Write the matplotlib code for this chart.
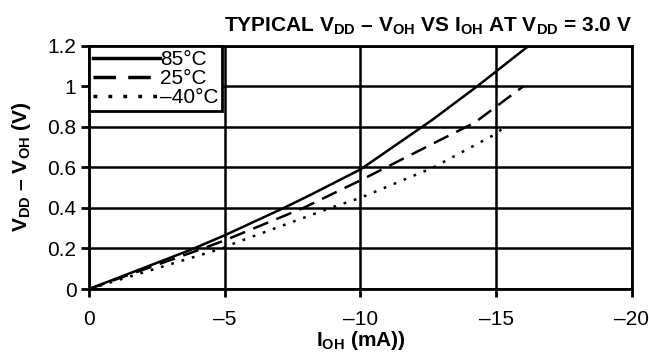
import numpy as np
import matplotlib
matplotlib.use('Agg')
from matplotlib import pyplot as plt
from matplotlib.ticker import FuncFormatter

plt.rcParams['font.family'] = 'Liberation Sans'
plt.rcParams['mathtext.fontset'] = 'custom'
plt.rcParams['mathtext.rm'] = 'Liberation Sans:bold'
plt.rcParams['mathtext.bf'] = 'Liberation Sans:bold'
plt.rcParams['mathtext.default'] = 'bf'

# data (I_OH in mA, Vdd - Voh in V)
i_85 = [0, -3.72, -5.0, -7.1, -8.14, -10.0, -12.63, -14.3, -16.2]
v_85 = [0, 0.192, 0.265, 0.395, 0.463, 0.59, 0.833, 1.00, 1.20]
i_25 = [0, -4.2, -5.0, -7.9, -10.0, -12.8, -14.2, -16.0]
v_25 = [0, 0.20, 0.24, 0.40, 0.536, 0.726, 0.82, 1.00]
i_m40 = [0, -4.9, -5.4, -8.9, -10.0, -12.66, -15.0, -15.4]
v_m40 = [0, 0.20, 0.228, 0.40, 0.45, 0.598, 0.766, 0.81]

labels = ['85°C', '25°C', '–40°C']
x_ticks = [0, -5, -10, -15, -20]
y_ticks = [0, 0.2, 0.4, 0.6, 0.8, 1.0, 1.2]

fig = plt.figure(figsize=(6.49, 3.58), dpi=100)
ax = fig.add_axes([0.1371, 0.1927, 0.8367, 0.6796])

ax.plot(i_85, v_85, color='k', lw=1.8, ls='-', label=labels[0])
ax.plot(i_25, v_25, color='k', lw=1.8, ls=(0, (6.5, 3.5)), label=labels[1])
ax.plot(i_m40, v_m40, color='k', lw=1.8, ls=(0, (1.1, 3.2)), label=labels[2])

ax.set_xlim(0, -20)
ax.set_ylim(0, 1.2)
ax.set_xticks(x_ticks)
ax.set_yticks(y_ticks)
ax.xaxis.set_major_formatter(FuncFormatter(lambda v, p: ('%g' % v).replace('-', '–')))
ax.yaxis.set_major_formatter(FuncFormatter(lambda v, p: '%g' % v))
ax.grid(True, color='k', lw=1.8)
for s in ax.spines.values():
    s.set_linewidth(2)
ax.tick_params(direction='out', length=6, width=2, labelsize=15, pad=3)
ax.tick_params(axis='x', pad=9)

ax.set_xlabel(r'I$_{OH}$ (mA))', fontsize=15, fontweight='bold', labelpad=0)
ax.set_ylabel(r'V$_{DD}$ – V$_{OH}$ (V)', fontsize=15, fontweight='bold', labelpad=10)
ax.set_title(r'TYPICAL V$_{DD}$ – V$_{OH}$ VS I$_{OH}$ AT V$_{DD}$ = 3.0 V',
             fontsize=15, fontweight='bold', loc='right', pad=10)

leg = ax.legend(loc='upper left', fontsize=15, handlelength=3.2, handletextpad=0.0,
                borderaxespad=0, borderpad=0.2, labelspacing=0.0, fancybox=False,
                framealpha=1, edgecolor='k')
leg.get_frame().set_linewidth(2)
for ln in leg.get_lines():
    ln.set_linewidth(2.5)

fig.savefig('out.png', dpi=100)
